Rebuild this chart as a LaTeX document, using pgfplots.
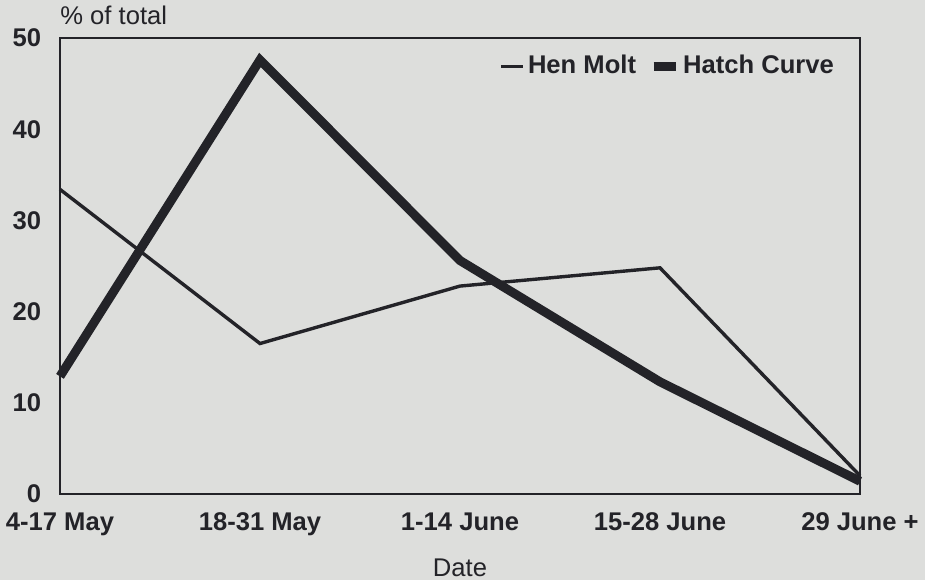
\documentclass[border=0pt]{standalone}
\usepackage{pgfplots}
\pgfplotsset{compat=1.18}
\usepackage{fontspec}
\setmainfont{Liberation Sans}
\definecolor{bg}{RGB}{221,222,220}
\definecolor{ink}{RGB}{35,35,40}
\begin{document}
\fontsize{12.8}{15}\selectfont
\begin{tikzpicture}
\fill[bg] (-30pt,-43pt) rectangle (432.5pt,247pt);
\path[use as bounding box] (-30pt,-43pt) rectangle (432.5pt,247pt);
\begin{axis}[
 at={(0,0)}, anchor=south west,
 scale only axis, width=400pt, height=228pt,
 xmin=0, xmax=4, ymin=0, ymax=50,
 xtick={0,1,2,3,4},
 xticklabels={4-17 May,18-31 May,1-14 June,15-28 June,29 June +},
 ytick={0,10,20,30,40,50},
 major tick length=0pt,
 axis line style={ink, line width=1.3pt},
 tick label style={font=\fontsize{12.8}{15}\selectfont\bfseries, text=ink},
 /pgf/number format/assume math mode=true,
 yticklabel style={xshift=-5pt},
 xticklabel style={yshift=-5pt},
 clip=false,
 legend columns=2,
 legend style={draw=none, fill=none, at={(rel axis cs:0.549,0.938)}, anchor=west,
   font=\fontsize{12.8}{15}\selectfont\bfseries, text=ink, inner sep=0pt,
   /tikz/every even column/.append style={column sep=5pt},
   nodes={inner sep=1.5pt}},
 legend image code/.code={\draw[#1] (0pt,0pt) -- (11pt,0pt);},
]
\addplot[ink, line width=1.7pt, line join=miter] coordinates {
 (0,33.4) (1,16.5) (2,22.8) (3,24.8) (4,2.0)};
\addlegendentry{Hen Molt}
\addplot[ink, line width=4.5pt, line join=miter] coordinates {
 (0,12.9) (1,47.6) (2,25.6) (3,12.3) (4,1.4)};
\addlegendentry{Hatch Curve}
\node[anchor=base west, inner sep=0pt, text=ink, font=\fontsize{12.8}{15}\selectfont] at (rel axis cs:0,1) [yshift=7pt] {\% of total};
\node[anchor=north, inner sep=0pt, text=ink, font=\fontsize{12.8}{15}\selectfont] at (rel axis cs:0.5,0) [yshift=-32pt] {Date};
\end{axis}
\end{tikzpicture}
\end{document}
